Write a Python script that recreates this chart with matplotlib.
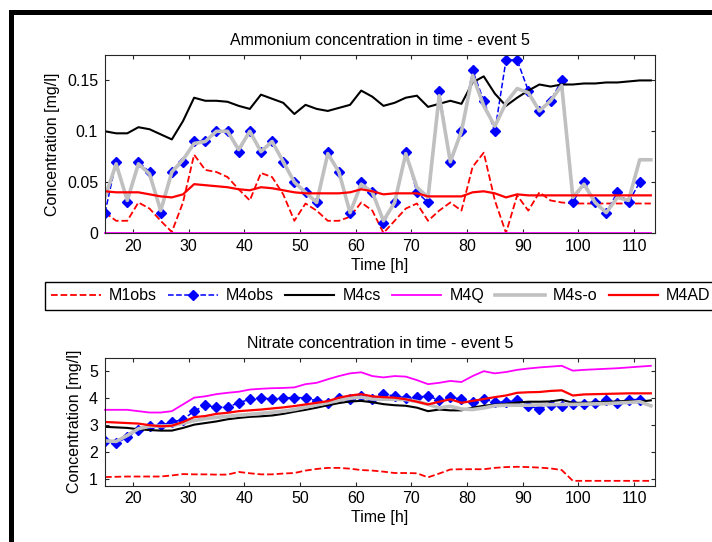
import numpy as np
import matplotlib
matplotlib.use("Agg")
import matplotlib.pyplot as plt
from matplotlib.patches import Rectangle

plt.rcParams['font.family'] = ['Liberation Sans', 'DejaVu Sans']

# ---- data ----
hours = list(range(15, 114, 2))          # 15 ... 113 h
obs_hours = list(range(15, 112, 2))      # 15 ... 111 h (M4obs samples)

# Ammonium [mg/l]
nh4_m1obs = [0.020, 0.012, 0.012, 0.030, 0.024, 0.012, 0.001, 0.030, 0.077, 0.062,
             0.060, 0.055, 0.043, 0.032, 0.059, 0.055, 0.038, 0.012, 0.029, 0.022,
             0.012, 0.012, 0.016, 0.030, 0.022, 0.000, 0.012, 0.024, 0.029, 0.012,
             0.022, 0.030, 0.022, 0.065, 0.079, 0.032, 0.000, 0.037, 0.022, 0.040,
             0.032, 0.030, 0.029, 0.029, 0.029, 0.029, 0.029, 0.029, 0.029, 0.029]
nh4_m4obs = [0.02, 0.07, 0.03, 0.07, 0.06, 0.02, 0.06, 0.07, 0.09, 0.09,
             0.10, 0.10, 0.08, 0.10, 0.08, 0.09, 0.07, 0.05, 0.04, 0.03,
             0.08, 0.06, 0.02, 0.05, 0.04, 0.01, 0.03, 0.08, 0.04, 0.03,
             0.14, 0.07, 0.10, 0.16, 0.13, 0.10, 0.17, 0.17, 0.14, 0.12,
             0.13, 0.15, 0.03, 0.05, 0.03, 0.02, 0.04, 0.03, 0.05]
nh4_m4cs = [0.100, 0.098, 0.098, 0.104, 0.102, 0.097, 0.092, 0.110, 0.133, 0.130,
            0.130, 0.129, 0.125, 0.122, 0.136, 0.132, 0.128, 0.117, 0.126, 0.122,
            0.120, 0.123, 0.126, 0.140, 0.134, 0.125, 0.128, 0.133, 0.135, 0.124,
            0.127, 0.130, 0.127, 0.148, 0.154, 0.137, 0.125, 0.133, 0.140, 0.146,
            0.144, 0.146, 0.146, 0.147, 0.147, 0.148, 0.148, 0.149, 0.150, 0.150]
nh4_m4q = [0.0] * len(hours)
nh4_m4so = [0.035, 0.068, 0.032, 0.068, 0.058, 0.022, 0.060, 0.072, 0.088, 0.090,
            0.100, 0.100, 0.082, 0.100, 0.080, 0.090, 0.070, 0.050, 0.040, 0.030,
            0.078, 0.060, 0.020, 0.048, 0.040, 0.012, 0.030, 0.078, 0.045, 0.035,
            0.135, 0.070, 0.100, 0.155, 0.125, 0.105, 0.128, 0.142, 0.138, 0.120,
            0.130, 0.145, 0.035, 0.048, 0.030, 0.020, 0.035, 0.032, 0.072, 0.072]
nh4_m4ad = [0.041, 0.040, 0.040, 0.040, 0.038, 0.036, 0.035, 0.038, 0.048, 0.047,
            0.046, 0.045, 0.043, 0.042, 0.045, 0.044, 0.042, 0.040, 0.039, 0.039,
            0.039, 0.039, 0.040, 0.043, 0.041, 0.038, 0.039, 0.039, 0.039, 0.036,
            0.036, 0.036, 0.036, 0.040, 0.041, 0.039, 0.035, 0.038, 0.037, 0.037,
            0.037, 0.037, 0.037, 0.037, 0.037, 0.037, 0.037, 0.037, 0.037, 0.037]

# Nitrate [mg/l]
no3_m1obs = [1.06, 1.07, 1.08, 1.08, 1.08, 1.08, 1.12, 1.17, 1.16, 1.16,
             1.15, 1.15, 1.25, 1.20, 1.16, 1.16, 1.19, 1.21, 1.30, 1.36,
             1.40, 1.40, 1.37, 1.32, 1.30, 1.26, 1.21, 1.21, 1.20, 1.05,
             1.19, 1.34, 1.35, 1.35, 1.35, 1.40, 1.43, 1.44, 1.43, 1.41,
             1.38, 1.32, 0.92, 0.92, 0.92, 0.92, 0.92, 0.92, 0.92, 0.92]
no3_m4obs = [2.38, 2.32, 2.53, 2.80, 2.94, 2.98, 3.10, 3.19, 3.50, 3.72,
             3.64, 3.65, 3.81, 3.94, 4.00, 3.94, 4.00, 4.00, 4.00, 3.88,
             3.80, 3.98, 3.94, 4.06, 3.94, 4.13, 4.06, 4.00, 4.03, 4.05,
             3.92, 4.03, 3.94, 3.84, 3.94, 3.85, 3.84, 3.90, 3.70, 3.58,
             3.73, 3.70, 3.77, 3.75, 3.80, 3.92, 3.81, 3.93, 3.93]
no3_m4cs = [2.92, 2.90, 2.88, 2.83, 2.80, 2.78, 2.78, 2.88, 3.00, 3.06,
            3.12, 3.20, 3.25, 3.29, 3.31, 3.34, 3.40, 3.48, 3.55, 3.63,
            3.72, 3.80, 3.86, 3.88, 3.83, 3.76, 3.72, 3.70, 3.63, 3.50,
            3.56, 3.53, 3.53, 3.63, 3.70, 3.74, 3.77, 3.82, 3.85, 3.85,
            3.86, 3.92, 3.81, 3.81, 3.82, 3.84, 3.86, 3.88, 3.85, 3.90]
no3_m4q = [3.55, 3.55, 3.55, 3.50, 3.45, 3.45, 3.50, 3.75, 4.00, 4.05,
           4.13, 4.18, 4.22, 4.30, 4.33, 4.35, 4.36, 4.38, 4.50, 4.55,
           4.68, 4.80, 4.90, 4.94, 4.80, 4.75, 4.80, 4.78, 4.65, 4.50,
           4.55, 4.62, 4.58, 4.80, 4.98, 4.90, 4.95, 5.03, 5.08, 5.12,
           5.15, 5.18, 5.00, 5.03, 5.05, 5.07, 5.09, 5.12, 5.15, 5.18]
no3_m4so = [2.40, 2.38, 2.60, 2.85, 2.94, 2.95, 2.96, 3.05, 3.15, 3.22,
            3.27, 3.31, 3.35, 3.38, 3.42, 3.46, 3.50, 3.56, 3.65, 3.73,
            3.81, 3.90, 3.98, 4.02, 3.95, 3.94, 3.94, 3.93, 3.86, 3.75,
            3.62, 3.68, 3.58, 3.56, 3.62, 3.70, 3.72, 3.72, 3.72, 3.73,
            3.74, 3.75, 3.75, 3.76, 3.77, 3.78, 3.80, 3.82, 3.85, 3.70]
no3_m4ad = [3.10, 3.08, 3.06, 3.04, 2.98, 2.94, 2.96, 3.10, 3.28, 3.32,
            3.40, 3.44, 3.50, 3.53, 3.56, 3.60, 3.64, 3.69, 3.75, 3.81,
            3.87, 4.00, 4.08, 4.13, 4.05, 4.02, 4.00, 3.94, 3.85, 3.75,
            3.85, 3.94, 3.81, 3.88, 3.95, 4.02, 4.08, 4.18, 4.20, 4.21,
            4.25, 4.27, 4.08, 4.12, 4.13, 4.14, 4.15, 4.16, 4.16, 4.16]

labels = ['M1obs', 'M4obs', 'M4cs', 'M4Q', 'M4s-o', 'M4AD']

FS = 11.5
SPINE = '#262626'


def draw(ax, m1obs, m4obs, m4cs, m4q, m4so, m4ad):
    ax.plot(hours, m1obs, '--', color='#ff0000', lw=1.3, label=labels[0])
    ax.plot(obs_hours, m4obs, '--', color='#0000ff', lw=1.1, marker='D',
            markersize=4.8, label=labels[1])
    ax.plot(hours, m4cs, '-', color='black', lw=1.5, label=labels[2])
    ax.plot(hours, m4q, '-', color='#ff00ff', lw=1.3, label=labels[3], clip_on=False)
    ax.plot(hours, m4so, '-', color='#c0c0c0', lw=2.6, label=labels[4])
    ax.plot(hours, m4ad, '-', color='#ff0000', lw=1.6, label=labels[5])
    ax.set_xlim(15, 113.75)
    ax.set_xticks(range(20, 111, 10))
    ax.set_xlabel('Time [h]', fontsize=FS, labelpad=3)
    ax.set_ylabel('Concentration [mg/l]', fontsize=FS, labelpad=5)
    ax.tick_params(direction='in', top=True, right=True, length=3,
                   width=0.8, labelsize=FS, color=SPINE)
    ax.tick_params(axis='x', pad=4)
    ax.tick_params(axis='y', pad=5)
    for s in ax.spines.values():
        s.set_color(SPINE)
        s.set_linewidth(0.8)


fig = plt.figure(figsize=(7.12, 5.42), dpi=100)

ax1 = fig.add_axes([105 / 712, 1 - 233 / 542, 550 / 712, 178 / 542])
draw(ax1, nh4_m1obs, nh4_m4obs, nh4_m4cs, nh4_m4q, nh4_m4so, nh4_m4ad)
ax1.set_ylim(0, 0.175)
ax1.set_yticks([0, 0.05, 0.1, 0.15])
ax1.set_yticklabels(['0', '0.05', '0.1', '0.15'])
ax1.set_title('Ammonium concentration in time - event 5', fontsize=FS, pad=7)

ax2 = fig.add_axes([105 / 712, 1 - 485.7 / 542, 550 / 712, 128 / 542])
draw(ax2, no3_m1obs, no3_m4obs, no3_m4cs, no3_m4q, no3_m4so, no3_m4ad)
ax2.set_ylim(0.74, 5.48)
ax2.set_yticks([1, 2, 3, 4, 5])
ax2.set_title('Nitrate concentration in time - event 5', fontsize=FS, pad=7)

handles, labs = ax1.get_legend_handles_labels()
leg = fig.legend(handles, labs, loc='upper left', bbox_to_anchor=(45 / 712, 1 - 282 / 542),
                 ncol=6, fontsize=FS, frameon=True, fancybox=False, edgecolor='black',
                 framealpha=1, borderaxespad=0, numpoints=1, handlelength=3.1,
                 handletextpad=0.5, columnspacing=0.7, borderpad=0.4)
leg.get_frame().set_linewidth(1.0)

# window frame (thick black edge at left and top)
fig.add_artist(Rectangle((9 / 712, 0), 5 / 712, 1 - 10 / 542, transform=fig.transFigure,
                         color='black', lw=0))
fig.add_artist(Rectangle((9 / 712, 1 - 15 / 542), 1, 5 / 542, transform=fig.transFigure,
                         color='black', lw=0))

fig.savefig('out.png', dpi=100)
